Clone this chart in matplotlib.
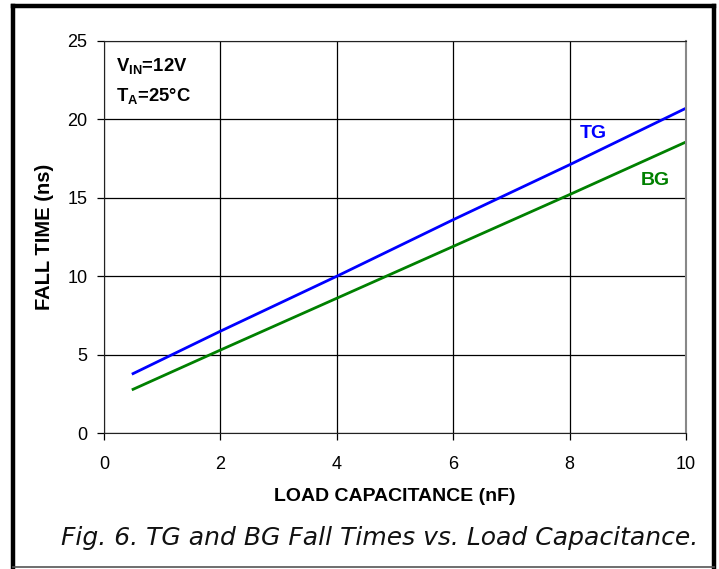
import matplotlib
matplotlib.use('Agg')
import matplotlib.pyplot as plt
from matplotlib.lines import Line2D

plt.rcParams['font.family'] = ['Liberation Sans', 'DejaVu Sans']
plt.rcParams['mathtext.fontset'] = 'custom'
plt.rcParams['mathtext.rm'] = 'Liberation Sans:bold'
plt.rcParams['mathtext.it'] = 'Liberation Sans:bold'
plt.rcParams['mathtext.bf'] = 'Liberation Sans:bold'

# load capacitance (nF) and fall times (ns)
cap = [0.5, 2, 4, 6, 8, 10]
tg_fall = [3.8, 6.5, 10.0, 13.6, 17.1, 20.7]
bg_fall = [2.8, 5.3, 8.6, 11.9, 15.2, 18.55]

xticks = [0, 2, 4, 6, 8, 10]
yticks = [0, 5, 10, 15, 20, 25]

fig = plt.figure(figsize=(7.19, 5.69), dpi=100)
ax = fig.add_axes([0.1446, 0.2385, 0.8095, 0.6900])

ax.plot(cap, tg_fall, color='#0000FF', lw=2)
ax.plot(cap, bg_fall, color='#008000', lw=2)

ax.set_xlim(0, 10)
ax.set_ylim(0, 25)
ax.set_xticks(xticks)
ax.set_yticks(yticks)
ax.grid(True, color='black', lw=0.9)
ax.tick_params(direction='out', length=5, width=0.9, labelsize=13)
ax.tick_params(axis='x', pad=11)
ax.tick_params(axis='y', pad=7)
for s in ['left', 'bottom', 'top']:
    ax.spines[s].set_color('#222222')
ax.spines['right'].set_color('#888888')
ax.spines['right'].set_linewidth(1.5)

ax.set_xlabel('LOAD CAPACITANCE (nF)', fontsize=14, fontweight='bold')
ax.set_ylabel('FALL TIME (ns)', fontsize=14.5, fontweight='bold')
ax.xaxis.set_label_coords(0.5, 1 - (497 - 40.7) / 392.6, transform=ax.transAxes)
ax.yaxis.set_label_coords((45 - 104) / 582, 0.5, transform=ax.transAxes)
ax.xaxis.label.set_va('center')
ax.yaxis.label.set_va('center')

ax.text(8.4, 19.1, 'TG', color='#0000FF', fontsize=14, fontweight='bold', ha='center', va='center')
ax.text(9.47, 16.1, 'BG', color='#008000', fontsize=14, fontweight='bold', ha='center', va='center')

ax.text(0.2, 23.4, r'$\mathregular{V_{IN}}$=12V', fontsize=13.3, fontweight='bold', va='center')
ax.text(0.2, 21.5, r'$\mathregular{T_{A}}$=25°C', fontsize=13.3, fontweight='bold', va='center')

fig.text(61 / 719, 1 - 538 / 569, 'Fig. 6. TG and BG Fall Times vs. Load Capacitance.',
         fontsize=18, style='italic', family='DejaVu Sans', color='#111111',
         ha='left', va='center')

# outer frame
fig.add_artist(Line2D([13/719, 13/719], [1-5.5/569, 1-567/569], color='black', lw=3.2, transform=fig.transFigure))
fig.add_artist(Line2D([13/719, 714/719], [1-5.5/569, 1-5.5/569], color='black', lw=3.2, transform=fig.transFigure))
fig.add_artist(Line2D([714/719, 714/719], [1-5.5/569, 1-567/569], color='black', lw=3.2, transform=fig.transFigure))
fig.add_artist(Line2D([13/719, 714/719], [1-567/569, 1-567/569], color='#555555', lw=1.2, transform=fig.transFigure))

fig.savefig('out.png', dpi=100)
